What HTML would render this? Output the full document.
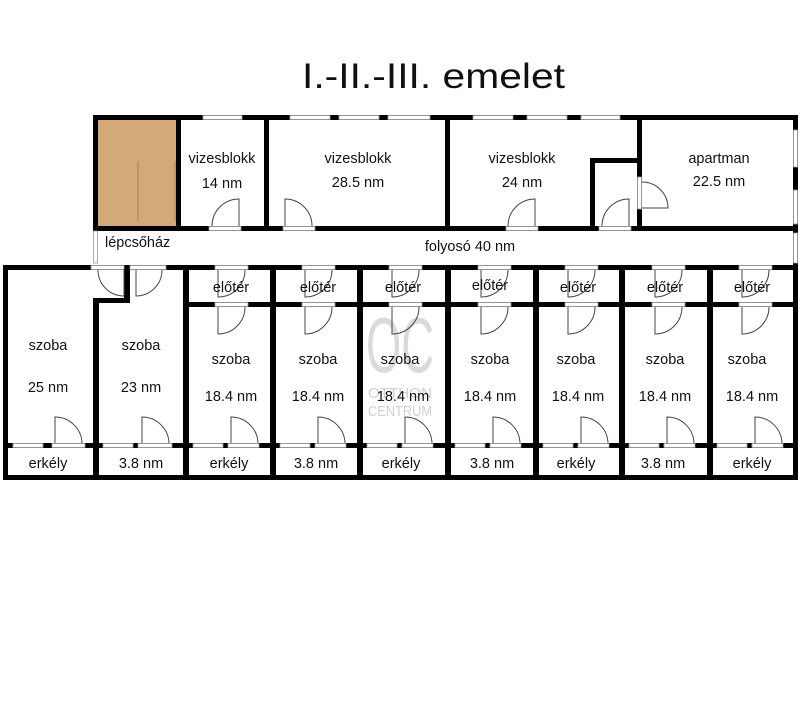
<!DOCTYPE html>
<html><head><meta charset="utf-8"><style>
html,body{margin:0;padding:0;background:#fff;}
svg{display:block;}
text{font-family:"Liberation Sans","DejaVu Sans",sans-serif;fill:#111;}
</style></head><body>
<svg width="800" height="712" viewBox="0 0 800 712" xmlns="http://www.w3.org/2000/svg">
<rect width="800" height="712" fill="#fff"/>
<text x="302" y="88" font-size="35" textLength="263" lengthAdjust="spacingAndGlyphs">I.-II.-III. emelet</text>

<!-- staircase -->
<rect x="98" y="120" width="78" height="106" fill="#d3a977"/>
<line x1="138" y1="161" x2="138" y2="221" stroke="#a88358" stroke-width="1"/>
<line x1="175" y1="161" x2="175" y2="221" stroke="#a88358" stroke-width="1"/>

<!-- watermark -->
<text x="366" y="372" font-size="78" textLength="68" lengthAdjust="spacingAndGlyphs" style="fill:#dadada">OC</text>
<text x="368" y="398" font-size="15" textLength="64" lengthAdjust="spacingAndGlyphs" style="fill:#d0d0d0">OTTHON</text>
<text x="368" y="416" font-size="15" textLength="64" lengthAdjust="spacingAndGlyphs" style="fill:#d0d0d0">CENTRUM</text>

<g fill="#000">
<rect x="93" y="115" width="705" height="5"/>
<rect x="93" y="115" width="5" height="116"/>
<rect x="793" y="115" width="5" height="365"/>
<rect x="176" y="120" width="5" height="106"/>
<rect x="264" y="120" width="5" height="106"/>
<rect x="445" y="120" width="5" height="106"/>
<rect x="637" y="120" width="5" height="106"/>
<rect x="93" y="226" width="705" height="5"/>
<rect x="590" y="158" width="5" height="68"/>
<rect x="590" y="158" width="52" height="5"/>
<rect x="3" y="265" width="795" height="5"/>
<rect x="3" y="265" width="5" height="215"/>
<rect x="3" y="475" width="795" height="5"/>
<rect x="93" y="298" width="6" height="182"/>
<rect x="124" y="265" width="6" height="38"/>
<rect x="93" y="298" width="37" height="5"/>
<rect x="183" y="265" width="6" height="215"/>
<rect x="270" y="265" width="6" height="215"/>
<rect x="357" y="265" width="6" height="215"/>
<rect x="445" y="265" width="6" height="215"/>
<rect x="533" y="265" width="6" height="215"/>
<rect x="619" y="265" width="6" height="215"/>
<rect x="707" y="265" width="6" height="215"/>
<rect x="183" y="302" width="615" height="5"/>
<rect x="3" y="443" width="795" height="5"/>
</g>

<g fill="#fff" stroke="#999" stroke-width="0.8">
<rect x="203" y="115.5" width="39" height="4"/>
<rect x="290" y="115.5" width="40" height="4"/>
<rect x="339" y="115.5" width="40" height="4"/>
<rect x="388" y="115.5" width="42" height="4"/>
<rect x="473" y="115.5" width="40" height="4"/>
<rect x="527" y="115.5" width="40" height="4"/>
<rect x="581" y="115.5" width="39" height="4"/>
<rect x="793.5" y="130" width="4" height="37"/>
<rect x="793.5" y="190" width="4" height="34"/>
<rect x="793.5" y="233" width="4" height="30"/>
<rect x="93.5" y="231" width="4" height="32"/>
<rect x="209" y="226.5" width="32" height="4"/>
<rect x="283" y="226.5" width="32" height="4"/>
<rect x="506" y="226.5" width="32" height="4"/>
<rect x="599" y="226.5" width="32" height="4"/>
<rect x="637.5" y="177" width="4" height="32"/>
<rect x="91" y="265.5" width="33" height="4"/>
<rect x="130" y="265.5" width="36" height="4"/>
<rect x="215" y="265.5" width="33" height="4"/><rect x="215" y="302.5" width="33" height="4"/>
<rect x="302" y="265.5" width="33" height="4"/><rect x="302" y="302.5" width="33" height="4"/>
<rect x="389" y="265.5" width="33" height="4"/><rect x="389" y="302.5" width="33" height="4"/>
<rect x="478" y="265.5" width="33" height="4"/><rect x="478" y="302.5" width="33" height="4"/>
<rect x="565" y="265.5" width="33" height="4"/><rect x="565" y="302.5" width="33" height="4"/>
<rect x="652" y="265.5" width="33" height="4"/><rect x="652" y="302.5" width="33" height="4"/>
<rect x="739" y="265.5" width="33" height="4"/><rect x="739" y="302.5" width="33" height="4"/>
<rect x="13" y="443.5" width="30" height="4"/><rect x="52" y="443.5" width="33" height="4"/>
<rect x="103" y="443.5" width="30" height="4"/><rect x="138" y="443.5" width="34" height="4"/>
<rect x="193" y="443.5" width="30" height="4"/><rect x="228" y="443.5" width="31" height="4"/>
<rect x="280" y="443.5" width="30" height="4"/><rect x="315" y="443.5" width="31" height="4"/>
<rect x="367" y="443.5" width="30" height="4"/><rect x="402" y="443.5" width="31" height="4"/>
<rect x="455" y="443.5" width="30" height="4"/><rect x="490" y="443.5" width="31" height="4"/>
<rect x="543" y="443.5" width="30" height="4"/><rect x="578" y="443.5" width="31" height="4"/>
<rect x="629" y="443.5" width="30" height="4"/><rect x="664" y="443.5" width="31" height="4"/>
<rect x="717" y="443.5" width="30" height="4"/><rect x="752" y="443.5" width="31" height="4"/>
</g>

<g fill="none" stroke="#444" stroke-width="1">
<path d="M239 226 V199 A27 27 0 0 0 212 226"/>
<path d="M285 226 V199 A27 27 0 0 1 312 226"/>
<path d="M535 226 V199 A27 27 0 0 0 508 226"/>
<path d="M629 226 V199 A27 27 0 0 0 602 226"/>
<path d="M642 208 H668 A26 26 0 0 0 642 182"/>
<path d="M124 270 V296 A26 26 0 0 1 98 270"/>
<path d="M136 270 V296 A26 26 0 0 0 162 270"/>
<path d="M218 270 V297 A27 27 0 0 0 245 270"/><path d="M218 307 V334 A27 27 0 0 0 245 307"/>
<path d="M305 270 V297 A27 27 0 0 0 332 270"/><path d="M305 307 V334 A27 27 0 0 0 332 307"/>
<path d="M392 270 V297 A27 27 0 0 0 419 270"/><path d="M392 307 V334 A27 27 0 0 0 419 307"/>
<path d="M481 270 V297 A27 27 0 0 0 508 270"/><path d="M481 307 V334 A27 27 0 0 0 508 307"/>
<path d="M568 270 V297 A27 27 0 0 0 595 270"/><path d="M568 307 V334 A27 27 0 0 0 595 307"/>
<path d="M655 270 V297 A27 27 0 0 0 682 270"/><path d="M655 307 V334 A27 27 0 0 0 682 307"/>
<path d="M742 270 V297 A27 27 0 0 0 769 270"/><path d="M742 307 V334 A27 27 0 0 0 769 307"/>
<path d="M55 443 V417 A27 27 0 0 1 82 443"/>
<path d="M142 443 V417 A27 27 0 0 1 169 443"/>
<path d="M231 443 V417 A27 27 0 0 1 258 443"/>
<path d="M318 443 V417 A27 27 0 0 1 345 443"/>
<path d="M405 443 V417 A27 27 0 0 1 432 443"/>
<path d="M493 443 V417 A27 27 0 0 1 520 443"/>
<path d="M581 443 V417 A27 27 0 0 1 608 443"/>
<path d="M667 443 V417 A27 27 0 0 1 694 443"/>
<path d="M755 443 V417 A27 27 0 0 1 782 443"/>
</g>

<g font-size="14.5" text-anchor="middle">
<text x="222" y="163">vizesblokk</text><text x="222" y="188">14 nm</text>
<text x="358" y="163">vizesblokk</text><text x="358" y="187">28.5 nm</text>
<text x="522" y="163">vizesblokk</text><text x="522" y="187">24 nm</text>
<text x="719" y="163">apartman</text><text x="719" y="186">22.5 nm</text>
<text x="470" y="251">folyosó 40 nm</text>
<text x="48" y="350">szoba</text><text x="48" y="392">25 nm</text>
<text x="141" y="350">szoba</text><text x="141" y="392">23 nm</text>
<text x="231" y="292">előtér</text><text x="318" y="292">előtér</text><text x="403" y="292">előtér</text>
<text x="490" y="290">előtér</text><text x="578" y="292">előtér</text><text x="665" y="292">előtér</text><text x="752" y="292">előtér</text>
<text x="231" y="364">szoba</text><text x="318" y="364">szoba</text><text x="400" y="364">szoba</text>
<text x="490" y="364">szoba</text><text x="576" y="364">szoba</text><text x="665" y="364">szoba</text><text x="747" y="364">szoba</text>
<text x="231" y="401">18.4 nm</text><text x="318" y="401">18.4 nm</text><text x="403" y="401">18.4 nm</text>
<text x="490" y="401">18.4 nm</text><text x="578" y="401">18.4 nm</text><text x="665" y="401">18.4 nm</text><text x="752" y="401">18.4 nm</text>
<text x="48" y="468">erkély</text><text x="141" y="468">3.8 nm</text><text x="229" y="468">erkély</text>
<text x="316" y="468">3.8 nm</text><text x="401" y="468">erkély</text><text x="492" y="468">3.8 nm</text>
<text x="576" y="468">erkély</text><text x="663" y="468">3.8 nm</text><text x="752" y="468">erkély</text>
</g>
<text x="105" y="247" font-size="14.5">lépcsőház</text>
</svg>
</body></html>
